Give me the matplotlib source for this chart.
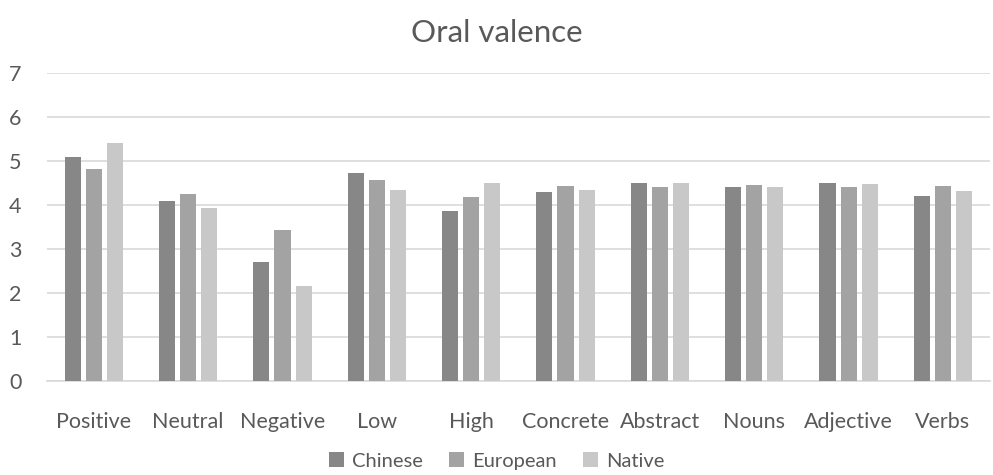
import matplotlib.pyplot as plt
import numpy as np

plt.rcParams['font.family'] = ['Lato', 'DejaVu Sans']

categories = ["Positive", "Neutral", "Negative", "Low", "High",
              "Concrete", "Abstract", "Nouns", "Adjective", "Verbs"]
chinese = [5.09, 4.10, 2.71, 4.72, 3.87, 4.29, 4.50, 4.42, 4.51, 4.20]
european = [4.83, 4.25, 3.43, 4.58, 4.18, 4.44, 4.42, 4.45, 4.42, 4.44]
native = [5.41, 3.93, 2.17, 4.35, 4.51, 4.34, 4.51, 4.42, 4.48, 4.31]

series = [("Chinese", chinese, "#878787"),
          ("European", european, "#a3a3a3"),
          ("Native", native, "#c8c8c8")]

fig = plt.figure(figsize=(9.93, 4.75), dpi=100)
ax = fig.add_axes([0.047, 0.198, 0.95, 0.648])

x = np.arange(len(categories))
w = 0.17
pitch = 0.223
for i, (name, vals, col) in enumerate(series):
    ax.bar(x + (i - 1) * pitch, vals, width=w, color=col, label=name, zorder=3)

ax.set_xlim(-0.5, len(categories) - 0.5)
ax.set_ylim(0, 7)
ax.set_yticks(range(0, 8))
ax.set_xticks(x)
ax.set_xticklabels(categories)
ax.grid(axis='y', color='#d9d9d9', lw=1.2, zorder=0)
for s in ['top', 'right', 'left']:
    ax.spines[s].set_visible(False)
ax.spines['bottom'].set_color('#d9d9d9')
ax.spines['bottom'].set_linewidth(1.2)
ax.tick_params(axis='x', length=0, labelsize=15.5, colors='#595959', pad=22)
ax.tick_params(axis='y', length=0, labelsize=15.5, colors='#595959', pad=18)

fig.suptitle("Oral valence", fontsize=22.5, color='#595959', y=0.96)
fig.legend(loc='lower center', ncol=3, frameon=False, fontsize=14.5,
           bbox_to_anchor=(0.5, -0.027), handlelength=0.75, handleheight=0.75,
           handletextpad=0.4, columnspacing=1.3, labelcolor='#595959')

plt.savefig("out.png", dpi=100)
